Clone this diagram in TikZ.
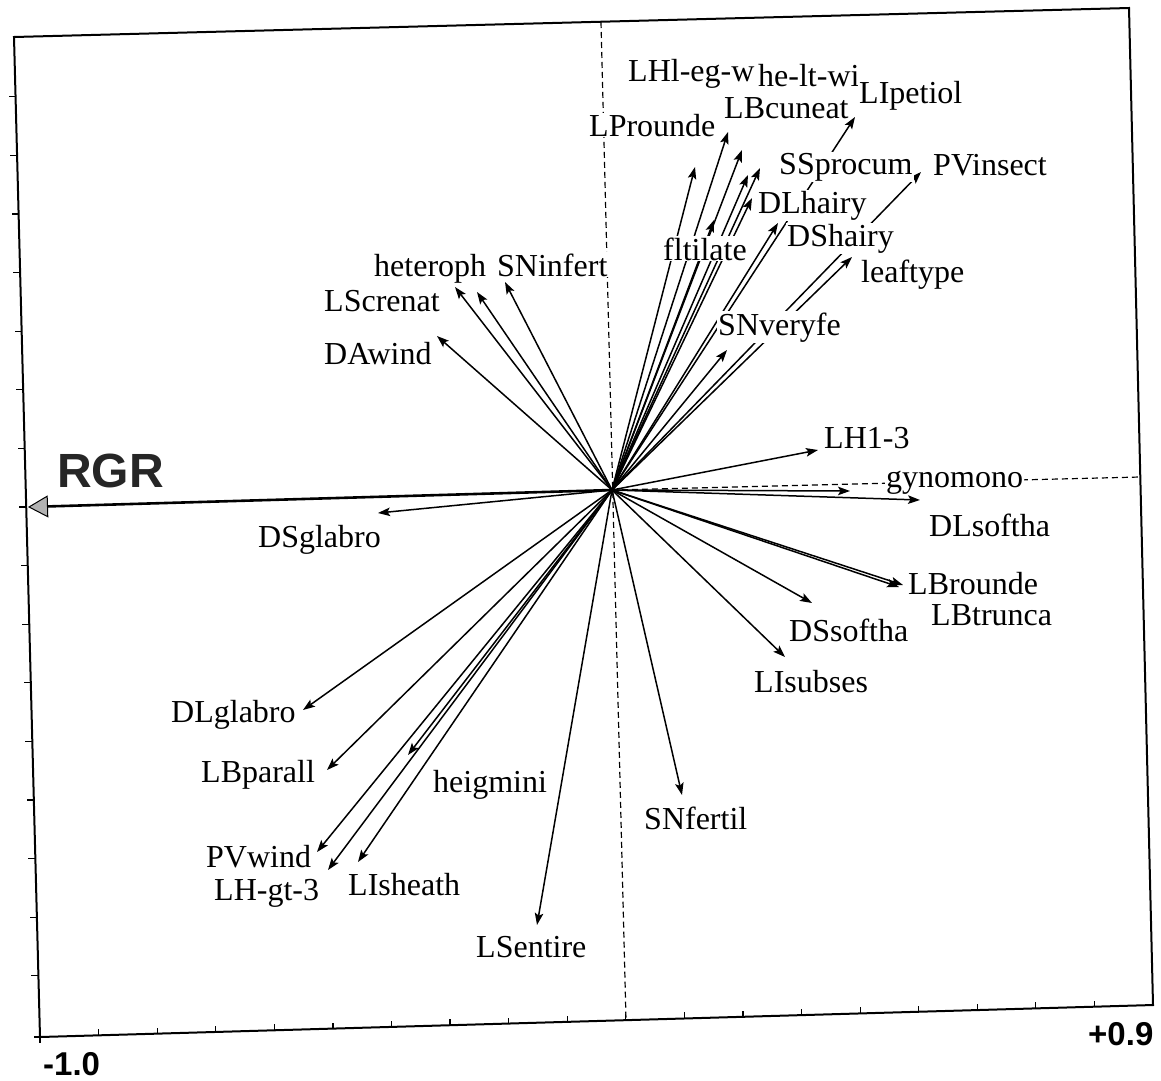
\documentclass[tikz,border=0pt]{standalone}
\usepackage{fontspec}
\setmainfont{Liberation Serif}
\newfontfamily\axisfont{Liberation Sans}
\usetikzlibrary{arrows.meta}
\begin{document}
\begin{tikzpicture}[x=1pt,y=-1pt,
  vec/.style={line width=1.5pt,-{Stealth[length=12pt,width=8.5pt,inset=2.5pt]}},
  lab/.style={font=\fontsize{32}{38}\selectfont, fill=white, inner sep=1pt, anchor=base west},
  axlab/.style={font=\axisfont\bfseries\fontsize{33}{38}\selectfont, inner sep=0pt, anchor=base west},
  axdash/.style={line width=1.2pt, dash pattern=on 6pt off 4pt},
  framel/.style={line width=2pt, line join=miter},
  tickl/.style={line width=1.2pt},
  rgrvec/.style={line width=2.6pt,-{Triangle[length=20pt,width=22pt,fill=gray!60,line width=1pt]}}
]
\useasboundingbox (0,0) rectangle (1161,1080);
\fill[white] (0,0) rectangle (1161,1080);

% axes (dashed)
\coordinate (O) at (612,490);
\coordinate (vtop) at (601,22);
\coordinate (vbot) at (626,1020);
\coordinate (hright) at (1140,477);
\draw[axdash] (vtop) -- (vbot);
\draw[axdash] (O) -- (hright);

% arrow tips
\coordinate (tA) at (695,167);
\coordinate (tB) at (728,132);
\coordinate (tC) at (742,150);
\coordinate (tD) at (748,175);
\coordinate (tE) at (760,168);
\coordinate (tF) at (752,198);
\coordinate (tG) at (714,220);
\coordinate (tH) at (778,223);
\coordinate (tLIp) at (855,117);
\coordinate (tPV) at (921,172);
\coordinate (tleaf) at (852,257);
\coordinate (tSNv) at (727,350);
\coordinate (tLH13) at (818,450);
\coordinate (tgyno) at (850,491);
\coordinate (tDLs) at (920,500);
\coordinate (tLBr) at (903,585);
\coordinate (tLBt) at (899,587);
\coordinate (tDSs) at (812,603);
\coordinate (tLIs) at (785,657);
\coordinate (tSNf) at (682,795);
\coordinate (tLSe) at (537,925);
\coordinate (tLIsh) at (358,862);
\coordinate (tLHg) at (328,870);
\coordinate (tPVw) at (317,852);
\coordinate (theig) at (408,755);
\coordinate (tLBp) at (327,770);
\coordinate (tDLg) at (303,710);
\coordinate (tDSg) at (378,513);
\coordinate (tDAw) at (437,336);
\coordinate (tLSc) at (455,287);
\coordinate (thet) at (477,292);
\coordinate (tSNi) at (505,282);
\coordinate (tRGR) at (28,507);

\foreach \t in {tA,tB,tC,tD,tE,tF,tG,tH,tLIp,tPV,tleaf,tSNv,tLH13,tgyno,tDLs,tLBr,tLBt,tDSs,tLIs,tSNf,tLSe,tLIsh,tLHg,tPVw,theig,tLBp,tDLg,tDSg,tDAw,tLSc,thet,tSNi}
  \draw[vec] (O) -- (\t);
\draw[rgrvec] (O) -- (tRGR);

% labels
\node[lab] (lLHl) at (627,81) {LHl-eg-w};
\node[lab] (lhelt) at (757,86) {he-lt-wi};
\node[lab] (lLIp) at (858,103) {LIpetiol};
\node[lab] (lLBc) at (723,118) {LBcuneat};
\node[lab] (lLPr) at (588,136) {LProunde};
\node[lab] (lSSp) at (778,174) {SSprocum};
\node[lab] (lPVi) at (932,175) {PVinsect};
\node[lab] (lDLh) at (757,213) {DLhairy};
\node[lab] (lDSh) at (786,246) {DShairy};
\node[lab] (lflt) at (662,260) {fltilate};
\node[lab] (lleaf) at (860,282) {leaftype};
\node[lab] (lhet) at (373,276) {heteroph};
\node[lab] (lSNi) at (496,276) {SNinfert};
\node[lab] (lLSc) at (323,311) {LScrenat};
\node[lab] (lDAw) at (323,364) {DAwind};
\node[lab] (lSNv) at (717,335) {SNveryfe};
\node[lab] (lLH13) at (823,448) {LH1-3};
\node[lab] (lgyno) at (885,487) {gynomono};
\node[lab] (lDLs) at (928,536) {DLsoftha};
\node[lab] (lDSg) at (257,547) {DSglabro};
\node[lab] (lLBr) at (907,594) {LBrounde};
\node[lab] (lLBt) at (930,625) {LBtrunca};
\node[lab] (lDSs) at (788,641) {DSsoftha};
\node[lab] (lLIs) at (753,692) {LIsubses};
\node[lab] (lDLg) at (170,722) {DLglabro};
\node[lab] (lLBp) at (200,782) {LBparall};
\node[lab] (lheig) at (432,792) {heigmini};
\node[lab] (lSNf) at (643,829) {SNfertil};
\node[lab] (lPVw) at (205,867) {PVwind};
\node[lab] (lLHg) at (213,900) {LH-gt-3};
\node[lab] (lLIsh) at (347,895) {LIsheath};
\node[lab] (lLSe) at (475,957) {LSentire};
\node[anchor=base west, inner sep=0pt, font=\axisfont\bfseries\fontsize{48}{52}\selectfont, text=black!85] (lRGR) at (57,487) {RGR};

% frame
\coordinate (cTL) at (14,37);
\coordinate (cTR) at (1129,8);
\coordinate (cBR) at (1153,1005);
\coordinate (cBL) at (40,1037);
\draw[framel] (cTL) -- (cTR) -- (cBR) -- (cBL) -- cycle;

% ticks
\foreach \k in {-7,...,8}{
  \pgfmathsetmacro\ty{507+58.6*\k}
  \pgfmathsetmacro\tx{14+0.026*(\ty-37)}
  \draw[tickl] (\tx,\ty) -- ++(-7,0);
}
\foreach \k in {1,...,18}{
  \pgfmathsetmacro\tx{40+58.58*\k}
  \pgfmathsetmacro\ty{1037-1.684*\k}
  \draw[tickl] (\tx,\ty) -- ++(0,-6);
}
\draw[tickl] (cBL) -- ++(0,6);
\draw[tickl] (cBL) -- ++(-6,0);

\node[axlab] (lmin) at (43,1075) {-1.0};
\node[axlab] (lmax) at (1088,1045) {+0.9};
\end{tikzpicture}
\end{document}
